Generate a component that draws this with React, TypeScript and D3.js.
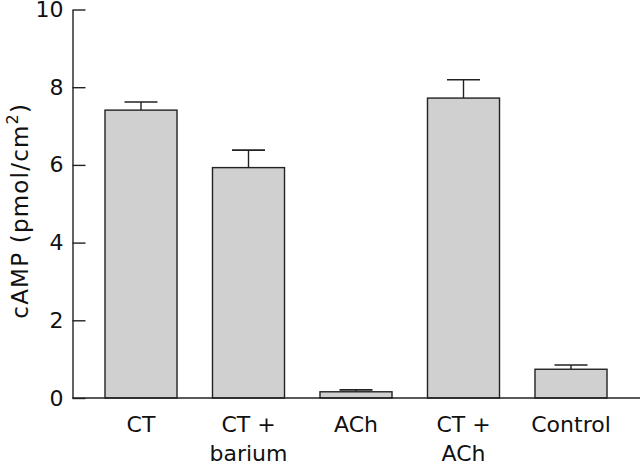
import React, { useRef, useEffect } from "react";
import * as d3 from "d3";

const categories = ["CT", "CT +\nbarium", "ACh", "CT +\nACh", "Control"];
const means = [7.41, 5.93, 0.16, 7.72, 0.74];
const sems = [0.21, 0.45, 0.05, 0.47, 0.11];
const yTicks = [0, 2, 4, 6, 8, 10];

const W = 640;
const H = 464;
const FONT = "'DejaVu Sans', sans-serif";

const App = () => {
  const ref = useRef<SVGSVGElement>(null);

  useEffect(() => {
    const svg = d3.select(ref.current);
    svg.selectAll("*").remove();

    const x = d3.scaleBand<string>()
      .domain(categories)
      .range([87.25, 624.75])
      .paddingInner(0.33)
      .paddingOuter(0.165);

    const y = d3.scaleLinear().domain([0, 10]).range([398, 9.5]);

    // bars
    svg.append("g")
      .selectAll("rect")
      .data(categories)
      .join("rect")
      .attr("x", d => x(d)!)
      .attr("y", (d, i) => y(means[i]))
      .attr("width", x.bandwidth())
      .attr("height", (d, i) => y(0) - y(means[i]))
      .attr("fill", "#d0d0d0")
      .attr("stroke", "#222")
      .attr("stroke-width", 1.4);

    // error bars (upper only)
    const eb = svg.append("g")
      .selectAll("g")
      .data(categories)
      .join("g")
      .attr("transform", d => `translate(${x(d)! + x.bandwidth() / 2},0)`);
    eb.append("line")
      .attr("y1", (d, i) => y(means[i]))
      .attr("y2", (d, i) => y(means[i] + sems[i]))
      .attr("stroke", "#222")
      .attr("stroke-width", 1.4);
    eb.append("line")
      .attr("x1", -16.5)
      .attr("x2", 16.5)
      .attr("y1", (d, i) => y(means[i] + sems[i]))
      .attr("y2", (d, i) => y(means[i] + sems[i]))
      .attr("stroke", "#222")
      .attr("stroke-width", 1.6);

    // y axis
    const ya = svg.append("g")
      .attr("transform", "translate(72.5,0)")
      .call(d3.axisLeft(y).tickValues(yTicks).tickSizeInner(-13).tickSizeOuter(0).tickPadding(9));
    ya.select(".domain").attr("stroke", "#222").attr("stroke-width", 1.4);
    ya.selectAll(".tick line").attr("stroke", "#222").attr("stroke-width", 1.4);
    ya.selectAll(".tick text")
      .attr("font-family", FONT)
      .attr("font-size", 22)
      .attr("fill", "#111");

    // baseline
    svg.append("line")
      .attr("x1", 72.5)
      .attr("x2", W)
      .attr("y1", y(0))
      .attr("y2", y(0))
      .attr("stroke", "#222")
      .attr("stroke-width", 1.4);

    // x labels
    svg.append("g")
      .selectAll("text")
      .data(categories)
      .join("text")
      .attr("x", d => x(d)! + x.bandwidth() / 2)
      .attr("y", 432)
      .attr("text-anchor", "middle")
      .attr("font-family", FONT)
      .attr("font-size", 22)
      .attr("fill", "#111")
      .each(function (d) {
        const t = d3.select(this);
        d.split("\n").forEach((line, i) => {
          t.append("tspan")
            .attr("x", x(d)! + x.bandwidth() / 2)
            .attr("dy", i === 0 ? 0 : 29)
            .text(line);
        });
      });

    // y label
    const yl = svg.append("text")
      .attr("transform", `translate(28,${(y(0) + y(10)) / 2 + 7}) rotate(-90)`)
      .attr("text-anchor", "middle")
      .attr("font-family", FONT)
      .attr("font-size", 23)
      .attr("letter-spacing", 1.2)
      .attr("fill", "#111");
    yl.append("tspan").text("cAMP (pmol/cm");
    yl.append("tspan").attr("font-size", 16).attr("dy", -10).text("2");
    yl.append("tspan").attr("dy", 10).text(")");
  }, []);

  return (
    <div style={{ position: "absolute", left: 0, top: 0 }}>
      <svg ref={ref} width={W} height={H} style={{ display: "block", background: "#fff" }} />
    </div>
  );
};

export default App;
